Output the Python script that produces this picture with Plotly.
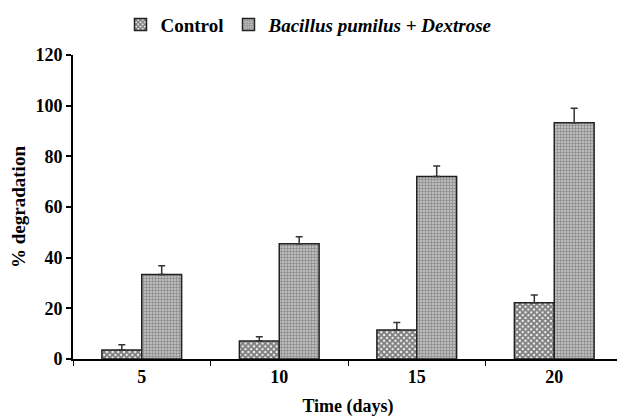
import plotly.graph_objects as go

categories = ["5", "10", "15", "20"]
control = [3.6, 7.1, 11.4, 22.2]
control_err = [2.0, 1.7, 3.0, 3.1]
dextrose = [33.4, 45.5, 72.0, 93.3]
dextrose_err = [3.4, 2.8, 4.2, 5.7]
y_ticks = [0, 20, 40, 60, 80, 100, 120]

FONT = "Liberation Serif"
no_lower = [0, 0, 0, 0]

fig = go.Figure()
fig.add_trace(go.Bar(
    x=categories, y=control, name="<b>Control</b>",
    marker=dict(color="white", line=dict(color="#222", width=1.5),
                pattern=dict(shape="x", fgcolor="black", bgcolor="white", size=4, solidity=0.75)),
    error_y=dict(type="data", symmetric=False, array=control_err, arrayminus=no_lower,
                 color="#333", thickness=1.5, width=3.5),
))
fig.add_trace(go.Bar(
    x=categories, y=dextrose, name="<b><i>Bacillus pumilus + Dextrose</i></b>",
    marker=dict(color="#b0b0b0", line=dict(color="#222", width=1.5),
                pattern=dict(shape="+", fgcolor="#626262", bgcolor="#bcbcbc", size=3, solidity=0.45)),
    error_y=dict(type="data", symmetric=False, array=dextrose_err, arrayminus=no_lower,
                 color="#333", thickness=1.5, width=3.5),
))

fig.update_layout(
    width=617, height=409,
    margin=dict(l=65, r=2, t=47, b=58, autoexpand=False),
    paper_bgcolor="white", plot_bgcolor="white",
    font=dict(family=FONT, size=18, color="black"),
    barmode="group", bargap=0.42, bargroupgap=0,
    showlegend=True,
    legend=dict(orientation="h", x=0.43, xanchor="center", y=1.10, yanchor="middle",
                font=dict(family=FONT, size=19, color="black"),
                itemwidth=30, tracegroupgap=0, bgcolor="rgba(0,0,0,0)"),
    xaxis=dict(
        type="category", showline=True, linecolor="black", linewidth=2,
        ticks="outside", tickson="boundaries", ticklen=5, tickcolor="black", tickwidth=1,
        tickfont=dict(family=FONT, size=18, color="black"),
        title=dict(text="<b>Time (days)</b>", font=dict(family=FONT, size=18), standoff=14),
        tickprefix="<b>", ticksuffix="</b>",
        showgrid=False, zeroline=False, automargin=False,
    ),
    yaxis=dict(
        range=[0, 120], tickvals=y_ticks, ticktext=[f"<b>{v}</b>" for v in y_ticks],
        showline=True, linecolor="black", linewidth=2,
        ticks="outside", ticklen=5, tickcolor="black", tickwidth=1.5,
        tickfont=dict(family=FONT, size=18, color="black"),
        title=dict(text="<b>% degradation</b>", font=dict(family=FONT, size=19), standoff=6),
        showgrid=False, zeroline=False, automargin=False,
    ),
)

fig.write_html("out.html")
